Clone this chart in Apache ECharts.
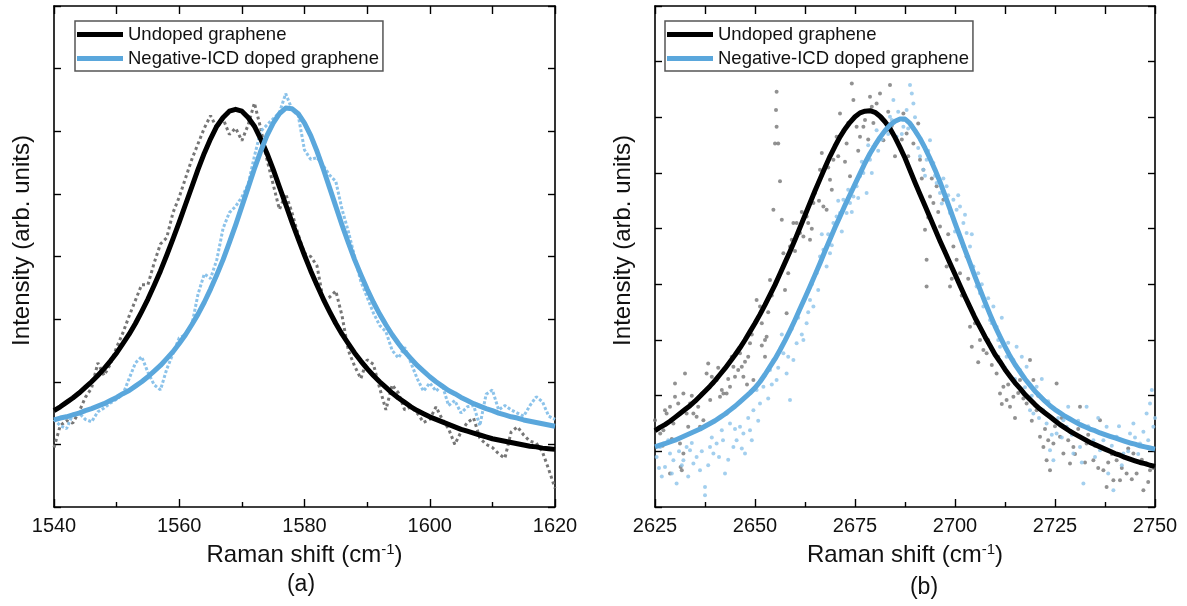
<!DOCTYPE html>
<html>
<head>
<meta charset="utf-8">
<title>Raman G and 2D bands</title>
<script src="https://cdn.jsdelivr.net/npm/echarts@6/dist/echarts.min.js"></script>
<style>
  html, body { margin: 0; padding: 0; background: #fff; }
  #chart { width: 1187px; height: 606px; }
</style>
</head>
<body>
<div id="chart"></div>
<script>
// ---- panel (a): G band, one value per cm-1 from 1540 ----
const gStart = 1540;
const gStep = 1;
const gUndopedData = [
  0.95, 1.30, 1.38, 1.34, 1.52, 1.75, 1.90, 2.30, 2.10, 2.28,
  2.55, 2.78, 3.05, 3.30, 3.55, 3.55, 3.90, 4.20, 4.30, 4.70,
  4.95, 5.25, 5.55, 5.80, 6.05, 6.25, 6.05, 6.20, 5.95, 6.05,
  5.85, 6.10, 6.45, 6.05, 5.55, 5.15, 4.75, 5.00, 4.70, 4.35,
  4.05, 4.00, 3.85, 3.30, 3.35, 3.45, 3.05, 2.50, 2.25, 2.05,
  2.35, 2.28, 1.90, 1.55, 1.95, 1.82, 1.55, 1.60, 1.50, 1.35,
  1.40, 1.60, 1.40, 1.25, 1.00, 1.20, 1.35, 1.42, 1.10, 1.00,
  0.95, 0.85, 0.78, 1.20, 1.28, 1.15, 1.05, 1.02, 0.88, 0.60,
  0.30
];
const gDopedData = [
  1.40, 1.30, 1.25, 1.48, 1.50, 1.40, 1.36, 1.52, 1.58, 1.66,
  1.72, 1.80, 2.05, 2.30, 2.40, 2.15, 1.95, 1.87, 2.20, 2.45,
  2.70, 2.75, 2.90, 3.40, 3.72, 3.65, 3.95, 4.45, 4.70, 4.80,
  4.95, 5.15, 5.60, 6.00, 6.10, 6.20, 6.30, 6.60, 6.35, 6.25,
  5.70, 5.55, 5.58, 5.45, 5.30, 5.20, 4.75, 4.40, 4.00, 3.60,
  3.35, 3.10, 2.90, 2.80, 2.50, 2.38, 2.55, 2.30, 2.05, 1.85,
  1.98, 1.85, 1.95, 1.62, 1.70, 1.50, 1.60, 1.62, 1.30, 1.80,
  1.87, 1.55, 1.62, 1.55, 1.50, 1.45, 1.62, 1.76, 1.68, 1.45,
  1.40
];
const gUndopedFit = [
  1.54, 1.60, 1.67, 1.74, 1.82, 1.91, 2.00, 2.10, 2.21, 2.33,
  2.46, 2.61, 2.76, 2.93, 3.12, 3.32, 3.54, 3.77, 4.02, 4.28,
  4.55, 4.83, 5.11, 5.39, 5.65, 5.88, 6.08, 6.22, 6.32, 6.35,
  6.32, 6.22, 6.08, 5.88, 5.65, 5.39, 5.11, 4.83, 4.55, 4.28,
  4.02, 3.77, 3.54, 3.32, 3.12, 2.93, 2.76, 2.61, 2.46, 2.33,
  2.21, 2.10, 2.00, 1.91, 1.82, 1.74, 1.67, 1.60, 1.54, 1.49,
  1.44, 1.40, 1.36, 1.32, 1.28, 1.24, 1.21, 1.18, 1.15, 1.12,
  1.09, 1.07, 1.05, 1.03, 1.01, 0.99, 0.97, 0.96, 0.94, 0.93,
  0.92
];
const gDopedFit = [
  1.39, 1.42, 1.44, 1.47, 1.50, 1.54, 1.57, 1.61, 1.65, 1.70,
  1.75, 1.81, 1.86, 1.93, 2.00, 2.08, 2.17, 2.26, 2.37, 2.48,
  2.61, 2.75, 2.91, 3.08, 3.27, 3.48, 3.71, 3.95, 4.22, 4.50,
  4.80, 5.10, 5.40, 5.68, 5.93, 6.13, 6.28, 6.37, 6.36, 6.28,
  6.13, 5.93, 5.68, 5.40, 5.10, 4.80, 4.50, 4.22, 3.95, 3.71,
  3.48, 3.27, 3.08, 2.91, 2.75, 2.61, 2.48, 2.37, 2.26, 2.17,
  2.08, 2.00, 1.93, 1.86, 1.81, 1.75, 1.70, 1.65, 1.61, 1.57,
  1.54, 1.50, 1.47, 1.44, 1.42, 1.39, 1.37, 1.35, 1.33, 1.31,
  1.29
];

// ---- panel (b): 2D band, fits every 1.25 cm-1 from 2625 ----
const dStart = 2625;
const dFitStep = 1.25;
const dUndopedFit = [
  1.37, 1.43, 1.48, 1.54, 1.61, 1.68, 1.75, 1.82, 1.90, 1.99,
  2.08, 2.17, 2.27, 2.38, 2.49, 2.61, 2.73, 2.86, 3.00, 3.15,
  3.30, 3.46, 3.63, 3.81, 3.99, 4.19, 4.39, 4.59, 4.80, 5.02,
  5.24, 5.46, 5.68, 5.89, 6.10, 6.30, 6.48, 6.65, 6.79, 6.91,
  7.01, 7.08, 7.11, 7.12, 7.09, 7.02, 6.92, 6.80, 6.64, 6.46,
  6.27, 6.05, 5.83, 5.62, 5.41, 5.20, 4.99, 4.78, 4.58, 4.38,
  4.18, 3.98, 3.78, 3.59, 3.40, 3.23, 3.06, 2.90, 2.74, 2.61,
  2.47, 2.35, 2.23, 2.13, 2.02, 1.93, 1.84, 1.76, 1.69, 1.62,
  1.55, 1.48, 1.42, 1.36, 1.31, 1.26, 1.21, 1.16, 1.12, 1.08,
  1.04, 1.00, 0.96, 0.93, 0.89, 0.86, 0.83, 0.80, 0.78, 0.75,
  0.73
];
const dDopedFit = [
  1.08, 1.11, 1.14, 1.17, 1.20, 1.24, 1.28, 1.32, 1.36, 1.40,
  1.45, 1.50, 1.55, 1.61, 1.67, 1.74, 1.81, 1.89, 1.97, 2.05,
  2.14, 2.25, 2.38, 2.52, 2.66, 2.82, 2.99, 3.17, 3.36, 3.56,
  3.76, 3.96, 4.17, 4.38, 4.60, 4.81, 5.02, 5.22, 5.42, 5.61,
  5.80, 5.99, 6.18, 6.35, 6.50, 6.64, 6.76, 6.86, 6.93, 6.97,
  6.97, 6.89, 6.76, 6.62, 6.45, 6.26, 6.06, 5.84, 5.60, 5.35,
  5.10, 4.86, 4.62, 4.38, 4.14, 3.91, 3.68, 3.46, 3.25, 3.06,
  2.88, 2.71, 2.56, 2.43, 2.30, 2.19, 2.08, 1.99, 1.90, 1.82,
  1.75, 1.69, 1.63, 1.58, 1.53, 1.48, 1.44, 1.40, 1.37, 1.33,
  1.30, 1.27, 1.24, 1.21, 1.18, 1.15, 1.13, 1.10, 1.08, 1.06,
  1.04
];
const dUndopedPts = [
  [2625, 1.56], [2626.3, 1.32], [2626.9, 1.10], [2627.1, 1.38], [2627.5, 1.74],
  [2627.9, 1.68], [2628.75, 1.80], [2628.75, 0.60], [2629.2, 1.22], [2629.6, 1.50],
  [2630, 2.22], [2630, 1.98], [2630.8, 1.86], [2631.25, 1.14], [2631.4, 0.72],
  [2631.7, 0.66], [2632.1, 2.04], [2632.1, 0.96], [2632.5, 2.40], [2632.9, 1.68],
  [2633.3, 1.44], [2633.75, 1.86], [2634.2, 2.00], [2634.6, 1.68], [2635.4, 1.62],
  [2635.8, 1.80], [2636.25, 1.44], [2636.7, 2.04], [2637.1, 1.56], [2637.9, 2.40],
  [2638.3, 2.58], [2638.8, 1.92], [2639.2, 2.34], [2639.6, 2.22], [2640.4, 2.28],
  [2640.8, 2.50], [2641.25, 1.98], [2641.7, 2.10], [2642.1, 2.04], [2642.9, 2.04],
  [2642.9, 1.68], [2643.3, 2.30], [2643.75, 2.16], [2644.2, 2.70], [2644.6, 2.52],
  [2645, 2.34], [2645.8, 2.46], [2646.25, 2.76], [2646.7, 2.52], [2647.1, 2.34],
  [2647.5, 2.61], [2648.0, 2.20], [2648.3, 2.70], [2648.75, 2.94], [2649.2, 3.10],
  [2649.6, 2.28], [2650.4, 3.72], [2650.8, 3.40], [2651.25, 3.60], [2651.7, 3.30],
  [2651.7, 2.90], [2652.5, 3.00], [2652.5, 2.70], [2652.9, 3.06], [2653.3, 3.50],
  [2653.75, 4.08], [2654.2, 3.80], [2654.6, 5.34], [2655, 6.53], [2655.25, 7.13],
  [2655.4, 7.46], [2655.4, 6.83], [2655.8, 6.53], [2656.25, 5.85], [2656.7, 5.16],
  [2657.1, 4.56], [2657.5, 3.90], [2657.9, 3.48], [2658.3, 4.20], [2658.75, 4.68],
  [2659.2, 4.80], [2659.6, 5.10], [2660.0, 4.60], [2660.4, 5.10], [2661.25, 4.92],
  [2661.7, 5.30], [2662.1, 4.86], [2662.9, 5.22], [2663.3, 5.10], [2663.75, 4.80],
  [2664.2, 5.00], [2664.6, 5.46], [2665, 5.64], [2665.8, 5.82], [2666.0, 5.50],
  [2666.25, 6.06], [2666.7, 6.36], [2667.1, 5.40], [2667.9, 5.34], [2668.3, 6.10],
  [2668.75, 5.88], [2669.2, 5.70], [2669.6, 6.24], [2670.4, 6.65], [2670.8, 6.30],
  [2671.25, 7.07], [2672.1, 6.77], [2672.5, 6.20], [2672.9, 6.53], [2673.3, 6.90],
  [2673.75, 5.94], [2674.2, 7.61], [2674.6, 7.31], [2675.4, 6.83], [2675.8, 6.40],
  [2676.25, 6.65], [2677.1, 6.83], [2677.5, 6.95], [2678.3, 6.60], [2678.75, 7.37],
  [2679.2, 7.19], [2679.6, 6.90], [2680.4, 7.25], [2681.25, 7.43], [2681.7, 7.00],
  [2682.1, 6.59], [2682.9, 6.77], [2683.3, 7.10], [2683.75, 7.58], [2684.2, 6.85],
  [2685, 6.30], [2685.8, 6.95], [2686.7, 6.60], [2687.1, 7.07], [2687.9, 6.71],
  [2688.3, 6.30], [2689.2, 6.85], [2689.6, 6.53], [2690.8, 6.89], [2691.25, 6.24],
  [2691.7, 5.90], [2692.1, 6.06], [2692.5, 4.98], [2692.9, 4.44], [2692.9, 3.96],
  [2693.3, 5.20], [2693.75, 5.58], [2694.2, 5.90], [2694.6, 5.46], [2695.4, 5.76],
  [2695.8, 5.30], [2696.25, 5.04], [2696.7, 4.70], [2697.1, 5.52], [2697.9, 4.32],
  [2698.3, 4.90], [2698.75, 3.96], [2699.2, 4.10], [2699.6, 4.68], [2700.4, 4.44],
  [2701.25, 4.20], [2701.7, 3.80], [2702.1, 4.68], [2702.9, 4.50], [2703.3, 4.10],
  [2703.75, 3.24], [2704.2, 2.88], [2704.6, 3.48], [2705.0, 3.30], [2705.8, 2.60],
  [2706.25, 3.00], [2707.1, 2.82], [2707.9, 2.76], [2708.3, 3.00], [2709.2, 2.55],
  [2710.4, 2.40], [2710.8, 2.70], [2711.25, 2.04], [2711.7, 1.85], [2712.1, 2.16],
  [2712.9, 1.92], [2713.3, 2.20], [2713.75, 1.80], [2714.6, 1.98], [2715.0, 1.60],
  [2715.8, 2.05], [2716.25, 2.28], [2717.1, 1.95], [2717.9, 1.86], [2718.75, 2.64],
  [2719.2, 1.55], [2719.6, 2.28], [2720.4, 1.74], [2720.8, 2.00], [2721.25, 1.26],
  [2722.1, 1.08], [2722.5, 1.40], [2722.9, 0.84], [2723.3, 1.20], [2723.75, 0.66],
  [2724.6, 1.14], [2725.0, 1.45], [2725.4, 2.22], [2726.25, 1.26], [2726.7, 1.60],
  [2727.1, 0.96], [2728.3, 1.20], [2728.75, 0.78], [2729.6, 1.08], [2730.0, 0.95],
  [2730.8, 1.40], [2731.25, 1.80], [2732.5, 0.80], [2732.9, 1.14], [2733.3, 1.30],
  [2734.6, 0.84], [2735.0, 1.10], [2735.8, 0.70], [2736.25, 1.56], [2737.1, 0.66],
  [2737.9, 0.36], [2738.3, 0.80], [2739.2, 0.95], [2739.6, 0.48], [2740.4, 0.84],
  [2741.25, 0.48], [2741.7, 0.70], [2742.9, 0.60], [2743.3, 1.05], [2744.2, 0.50],
  [2744.6, 0.96], [2745.4, 0.60], [2746.7, 0.85], [2747.1, 0.30], [2747.9, 0.78],
  [2748.3, 0.45], [2748.75, 0.66], [2749.6, 0.70]
];
const dDopedPts = [
  [2625.4, 0.90], [2626.0, 0.70], [2626.25, 1.08], [2626.7, 0.55], [2627.1, 1.14],
  [2627.5, 0.72], [2628.3, 1.20], [2628.75, 0.96], [2629.2, 0.60], [2629.6, 0.84],
  [2630.4, 0.42], [2631.0, 1.00], [2631.7, 0.75], [2632.1, 0.84], [2632.9, 1.08],
  [2633.3, 0.55], [2633.75, 1.02], [2634.2, 1.15], [2634.6, 0.78], [2635.4, 0.90],
  [2636.25, 0.66], [2636.7, 1.00], [2637.5, 0.36], [2637.5, 0.21], [2638.3, 0.75],
  [2638.75, 1.08], [2639.2, 1.25], [2639.6, 0.96], [2640.4, 1.14], [2641.0, 0.90],
  [2641.7, 1.38], [2642.0, 1.20], [2642.5, 0.60], [2643.3, 0.85], [2643.75, 1.50],
  [2644.6, 1.08], [2645.0, 1.40], [2645.4, 1.20], [2646.25, 1.44], [2646.7, 1.05],
  [2647.1, 1.32], [2647.5, 0.96], [2648.3, 1.60], [2648.75, 1.38], [2649.2, 1.20],
  [2649.6, 1.74], [2650.4, 2.10], [2650.8, 1.55], [2651.25, 1.86], [2651.7, 2.30],
  [2652.1, 2.16], [2653.3, 1.95], [2653.75, 2.46], [2654.2, 2.20], [2654.6, 2.64],
  [2655.4, 2.28], [2655.8, 2.50], [2656.25, 2.82], [2656.7, 3.10], [2657.1, 2.76],
  [2657.9, 2.40], [2658.3, 2.70], [2658.75, 1.92], [2659.2, 3.20], [2659.6, 2.64],
  [2660.4, 2.94], [2660.8, 3.40], [2661.7, 3.10], [2662.1, 3.00], [2662.9, 3.30],
  [2663.3, 3.50], [2663.75, 3.72], [2664.2, 4.00], [2664.6, 3.60], [2665.4, 4.20],
  [2665.8, 3.90], [2666.25, 4.50], [2666.7, 4.90], [2667.1, 4.62], [2667.9, 4.32],
  [2668.3, 4.90], [2668.75, 4.56], [2669.2, 4.70], [2669.6, 5.10], [2670.4, 5.22],
  [2670.8, 5.50], [2671.25, 5.28], [2671.7, 4.95], [2672.1, 5.52], [2672.9, 5.28],
  [2673.3, 5.70], [2673.75, 5.46], [2674.2, 5.30], [2674.6, 5.58], [2675.4, 5.76],
  [2675.8, 5.55], [2676.25, 5.94], [2676.7, 6.20], [2677.1, 6.00], [2677.9, 5.64],
  [2678.3, 6.50], [2678.75, 6.24], [2679.2, 6.00], [2679.6, 6.47], [2680.4, 6.77],
  [2680.8, 6.40], [2681.7, 6.60], [2682.1, 6.95], [2683.3, 6.70], [2683.75, 7.01],
  [2684.2, 6.95], [2684.6, 7.31], [2685.4, 6.65], [2685.8, 7.10], [2686.7, 6.70],
  [2687.1, 6.95], [2687.1, 6.83], [2687.9, 7.13], [2688.3, 6.80], [2688.75, 7.58],
  [2689.2, 7.43], [2689.6, 7.25], [2690.0, 7.00], [2690.4, 6.71], [2690.8, 6.45],
  [2691.25, 6.30], [2692.1, 6.06], [2692.5, 5.95], [2692.9, 6.24], [2693.3, 6.40],
  [2693.75, 6.59], [2694.6, 6.18], [2695.0, 5.95], [2695.4, 5.82], [2696.25, 5.64],
  [2696.7, 5.45], [2697.1, 5.90], [2697.9, 5.76], [2698.3, 5.60], [2698.75, 5.28],
  [2699.6, 5.52], [2700.0, 4.95], [2700.4, 5.34], [2700.8, 5.60], [2701.25, 5.40],
  [2702.1, 5.10], [2702.5, 5.25], [2702.9, 4.92], [2703.3, 4.50], [2703.75, 4.68],
  [2704.2, 4.90], [2704.6, 4.32], [2705.4, 3.96], [2705.8, 4.20], [2706.25, 3.84],
  [2706.7, 4.00], [2707.1, 3.60], [2708.3, 3.75], [2708.75, 3.36], [2709.2, 3.30],
  [2709.6, 3.60], [2710.4, 3.24], [2710.8, 3.00], [2711.25, 2.88], [2711.7, 3.40],
  [2712.5, 2.50], [2712.9, 2.70], [2713.3, 2.95], [2714.6, 2.64], [2715.0, 2.30],
  [2715.4, 2.88], [2716.25, 2.46], [2716.7, 2.70], [2717.5, 2.15], [2717.9, 2.52],
  [2718.75, 1.74], [2719.2, 2.00], [2719.6, 1.68], [2720.4, 2.16], [2721.0, 1.60],
  [2721.7, 2.30], [2722.1, 1.74], [2722.9, 1.50], [2723.3, 1.90], [2723.75, 1.02],
  [2724.2, 1.30], [2724.6, 0.84], [2725.4, 1.32], [2725.8, 1.60], [2726.7, 1.25],
  [2727.1, 1.56], [2727.9, 1.44], [2728.3, 1.80], [2729.2, 1.30], [2729.6, 0.96],
  [2730.8, 1.55], [2731.25, 1.08], [2731.7, 0.80], [2732.1, 0.42], [2732.9, 1.80],
  [2733.3, 1.45], [2734.6, 1.20], [2735.0, 0.90], [2735.8, 1.60], [2736.25, 1.02],
  [2737.1, 1.20], [2737.9, 1.44], [2738.3, 0.60], [2739.2, 1.10], [2739.6, 0.30],
  [2740.4, 1.26], [2741.0, 1.45], [2741.7, 0.75], [2742.1, 0.96], [2743.3, 1.00],
  [2743.75, 1.32], [2744.6, 1.50], [2745.0, 1.25], [2745.8, 0.95], [2746.25, 1.14],
  [2747.1, 1.35], [2747.9, 1.68], [2748.3, 1.20], [2748.75, 1.86], [2749.2, 2.10],
  [2749.6, 1.44], [2750, 1.60]
];

const legendNames = ['Undoped graphene', 'Negative-ICD doped graphene'];
const panelLabels = ['(a)', '(b)'];

const FONT = 'Liberation Sans';
const BLACK = '#000000';
const BLUE = '#5aa7dc';
const GRAY_DOT = '#767676';
const BLUE_DOT = '#8cc3ea';

function pairs(start, step, vals) {
  return vals.map((v, i) => [start + i * step, v]);
}

var chart = echarts.init(document.getElementById('chart'));

function bottomAxis(grid, min, max, interval) {
  return {
    type: 'value', gridIndex: grid, position: 'bottom',
    min: min, max: max, interval: interval,
    axisLine: { onZero: false, lineStyle: { color: BLACK, width: 1.6 } },
    axisTick: { inside: true, length: 8, lineStyle: { color: BLACK, width: 1.4 } },
    minorTick: { show: true, splitNumber: 2, length: 5, lineStyle: { color: BLACK, width: 1.4 } },
    axisLabel: {
      fontSize: 20, fontFamily: FONT, color: '#111', margin: 9,
      formatter: function (v) { return String(v); }
    },
    splitLine: { show: false },
    name: '{t|Raman shift (cm}{s|-1}{t|)}',
    nameLocation: 'middle',
    nameGap: 35,
    nameTextStyle: {
      rich: {
        t: { fontSize: 24, fontFamily: FONT, color: '#111' },
        s: { fontSize: 15, fontFamily: FONT, color: '#111', padding: [0, 0, 12, 0] }
      }
    }
  };
}

function topAxis(grid, min, max, interval) {
  return {
    type: 'value', gridIndex: grid, position: 'top',
    min: min, max: max, interval: interval,
    axisLine: { onZero: false, lineStyle: { color: BLACK, width: 1.6 } },
    axisTick: { inside: true, length: 8, lineStyle: { color: BLACK, width: 1.4 } },
    axisLabel: { show: false },
    splitLine: { show: false }
  };
}

function sideAxis(grid, max, pos, withName) {
  var ax = {
    type: 'value', gridIndex: grid, position: pos,
    min: 0, max: max, interval: 1,
    axisLine: { show: true, onZero: false, lineStyle: { color: BLACK, width: 1.6 } },
    axisTick: { show: true, inside: true, length: 7, lineStyle: { color: BLACK, width: 1.4 } },
    axisLabel: { show: false },
    splitLine: { show: false }
  };
  if (withName) {
    ax.name = 'Intensity (arb. units)';
    ax.nameLocation = 'middle';
    ax.nameGap = 20;
    ax.nameTextStyle = { fontSize: 24, fontFamily: FONT, color: '#111', padding: [0, 0, 0, 32] };
  }
  return ax;
}

function legendBox(left) {
  return {
    left: left, top: 21, orient: 'vertical',
    data: legendNames,
    icon: 'rect', itemWidth: 46, itemHeight: 5, itemGap: 5,
    padding: [4, 4, 3, 2],
    borderColor: '#555', borderWidth: 1.5,
    textStyle: { fontSize: 18.5, fontFamily: FONT, color: '#111' },
    selectedMode: false
  };
}

function fitLine(name, xi, yi, data, color, z) {
  return {
    name: name, type: 'line', xAxisIndex: xi, yAxisIndex: yi,
    data: data, symbol: 'none', silent: true,
    itemStyle: { color: color }, lineStyle: { color: color, width: 5, join: 'round' }, z: z
  };
}

var option = {
  backgroundColor: '#fff',
  animation: false,
  grid: [
    { left: 54, top: 6, width: 501, height: 501 },
    { left: 655, top: 6, width: 500, height: 501 }
  ],
  xAxis: [
    bottomAxis(0, 1540, 1620, 20),
    topAxis(0, 1540, 1620, 10),
    bottomAxis(1, 2625, 2750, 25),
    topAxis(1, 2625, 2750, 12.5)
  ],
  yAxis: [
    sideAxis(0, 8, 'left', true),
    sideAxis(0, 8, 'right', false),
    sideAxis(1, 9, 'left', true),
    sideAxis(1, 9, 'right', false)
  ],
  legend: [legendBox(75), legendBox(665)],
  graphic: [
    { type: 'text', x: 301, y: 585, style: { text: panelLabels[0], font: '23px "Liberation Sans"', fill: '#111', align: 'center', verticalAlign: 'middle' } },
    { type: 'text', x: 924, y: 588, style: { text: panelLabels[1], font: '23px "Liberation Sans"', fill: '#111', align: 'center', verticalAlign: 'middle' } }
  ],
  series: [
    {
      name: 'Undoped data (a)', type: 'line', xAxisIndex: 0, yAxisIndex: 0,
      data: pairs(gStart, gStep, gUndopedData), symbol: 'none', silent: true,
      lineStyle: { color: GRAY_DOT, width: 3, type: 'dotted' }, z: 1
    },
    {
      name: 'Doped data (a)', type: 'line', xAxisIndex: 0, yAxisIndex: 0,
      data: pairs(gStart, gStep, gDopedData), symbol: 'none', silent: true,
      lineStyle: { color: BLUE_DOT, width: 3, type: [3, 2] }, z: 1
    },
    fitLine(legendNames[0], 0, 0, pairs(gStart, gStep, gUndopedFit), BLACK, 3),
    fitLine(legendNames[1], 0, 0, pairs(gStart, gStep, gDopedFit), BLUE, 4),
    {
      name: 'Undoped data (b)', type: 'scatter', xAxisIndex: 2, yAxisIndex: 2,
      data: dUndopedPts, symbolSize: 4, silent: true,
      itemStyle: { color: GRAY_DOT }, z: 1
    },
    {
      name: 'Doped data (b)', type: 'scatter', xAxisIndex: 2, yAxisIndex: 2,
      data: dDopedPts, symbolSize: 4, silent: true,
      itemStyle: { color: BLUE_DOT }, z: 1
    },
    fitLine(legendNames[0], 2, 2, pairs(dStart, dFitStep, dUndopedFit), BLACK, 3),
    fitLine(legendNames[1], 2, 2, pairs(dStart, dFitStep, dDopedFit), BLUE, 4)
  ]
};

chart.setOption(option);
</script>
</body>
</html>
